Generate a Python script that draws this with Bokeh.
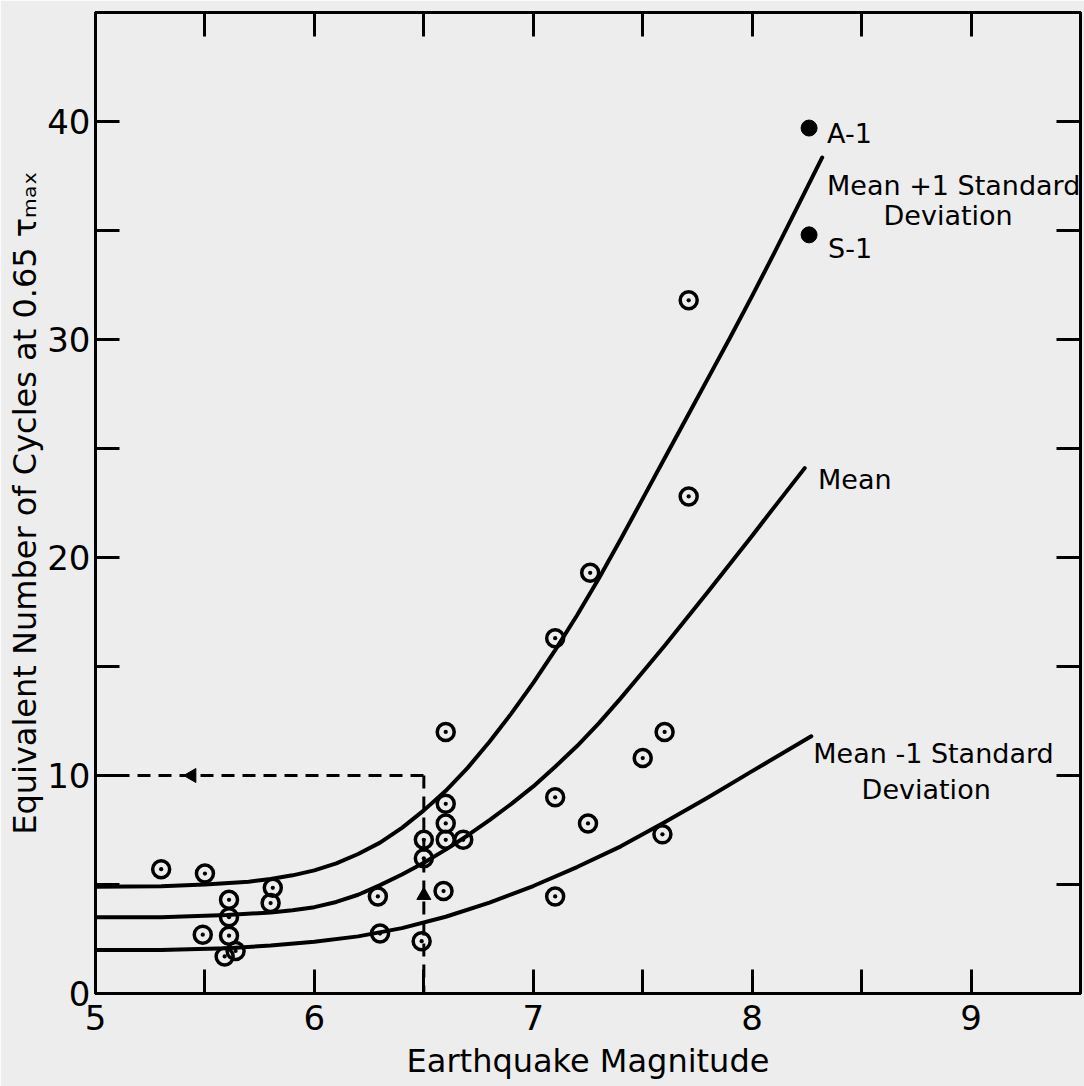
import math
from bokeh.plotting import figure
from bokeh.models import Range1d, FixedTicker, LinearAxis, Label
from bokeh.embed import file_html
from bokeh.resources import INLINE

# ---------------- data ----------------
plus_x = [5.0, 5.3, 5.5, 5.7, 5.8, 5.9, 6.0, 6.1, 6.2, 6.3, 6.4, 6.5, 6.6, 6.7, 6.8, 6.9, 7.0,
          7.1, 7.2, 7.3, 7.4, 7.5, 7.6, 7.7, 7.8, 7.9, 8.0, 8.1, 8.2, 8.32]
plus_y = [4.9, 4.92, 5.0, 5.13, 5.25, 5.42, 5.65, 5.97, 6.4, 6.92, 7.6, 8.4, 9.3, 10.35, 11.55, 12.85, 14.25,
          15.75, 17.35, 19.05, 20.85, 22.7, 24.55, 26.4, 28.25, 30.1, 32.0, 33.95, 35.95, 38.35]

mean_x = [5.0, 5.3, 5.6, 5.8, 5.9, 6.0, 6.1, 6.2, 6.3, 6.4, 6.5, 6.6, 6.7, 6.8, 6.9, 7.0, 7.1,
          7.2, 7.3, 7.4, 7.5, 7.6, 7.7, 7.8, 7.9, 8.0, 8.1, 8.24]
mean_y = [3.5, 3.5, 3.6, 3.72, 3.82, 3.96, 4.2, 4.53, 4.97, 5.46, 6.0, 6.6, 7.25, 7.95, 8.7, 9.5, 10.4,
          11.35, 12.4, 13.55, 14.75, 15.95, 17.2, 18.45, 19.72, 21.0, 22.3, 24.1]

minus_x = [5.0, 5.3, 5.6, 5.8, 6.0, 6.2, 6.4, 6.6, 6.8, 7.0, 7.2, 7.4, 7.6, 7.8, 8.0, 8.27]
minus_y = [2.0, 2.0, 2.08, 2.2, 2.37, 2.62, 3.0, 3.52, 4.17, 4.93, 5.8, 6.75, 7.85, 9.0, 10.2, 11.8]

obs_mag = [5.30, 5.50, 5.61, 5.61, 5.49, 5.61, 5.59, 5.64, 5.81, 5.80,
           6.29, 6.30, 6.49, 6.59, 6.50, 6.50, 6.60, 6.68, 6.60, 6.60,
           6.60, 7.10, 7.10, 7.25, 7.59, 7.50, 7.60, 7.10, 7.26, 7.71, 7.71]
obs_cycles = [5.7, 5.5, 4.3, 3.5, 2.7, 2.65, 1.7, 1.95, 4.85, 4.15,
              4.45, 2.75, 2.4, 4.7, 6.2, 7.05, 7.05, 7.05, 7.8, 8.7,
              12.0, 4.45, 9.0, 7.8, 7.3, 10.8, 12.0, 16.3, 19.3, 22.8, 31.8]

special_names = ["A-1", "S-1"]
special_mag = [8.26, 8.26]
special_cycles = [39.7, 34.8]

guide_mag = 6.5
guide_cycles = 10.0

x_major = [5, 6, 7, 8, 9]
x_minor = [5.5, 6.5, 7.5, 8.5]
y_major = [0, 10, 20, 30, 40]
y_minor = [5, 15, 25, 35]

FONT = "DejaVu Sans"
BG = "#ededed"

p = figure(width=1084, height=1086, output_backend="svg", toolbar_location=None,
           x_range=Range1d(5, 9.5), y_range=Range1d(0, 45),
           background_fill_color=BG, border_fill_color=BG,
           min_border_left=95, min_border_right=4, min_border_top=12, min_border_bottom=93)
p.grid.visible = False
p.outline_line_color = "black"
p.outline_line_width = 3

def style_axis(ax, ticks, minor):
    ax.ticker = FixedTicker(ticks=ticks, minor_ticks=minor)
    ax.axis_line_color = "black"
    ax.axis_line_width = 3
    ax.major_tick_in = 24
    ax.major_tick_out = 0
    ax.minor_tick_in = 24
    ax.minor_tick_out = 0
    ax.major_tick_line_width = 3
    ax.minor_tick_line_width = 3
    ax.major_tick_line_color = "black"
    ax.minor_tick_line_color = "black"
    ax.major_label_text_font = FONT
    ax.major_label_text_font_size = "34px"
    ax.major_label_text_color = "black"
    ax.axis_label_text_font = FONT
    ax.axis_label_text_font_style = "normal"
    ax.axis_label_text_color = "black"

style_axis(p.xaxis[0], x_major, x_minor)
style_axis(p.yaxis[0], y_major, y_minor)
p.xaxis[0].major_label_standoff = 11
p.yaxis[0].major_label_standoff = 5
p.xaxis[0].axis_label = "Earthquake Magnitude"
p.xaxis[0].axis_label_text_font_size = "32px"
p.xaxis[0].axis_label_standoff = 9
p.yaxis[0].axis_label = "Equivalent Number of Cycles at 0.65 \u03c4\u2098\u2090\u2093"
p.yaxis[0].axis_label_text_font_size = "32px"
p.yaxis[0].axis_label_standoff = 0

# top and right frame ticks (no labels: all ticks as minor ticks)
top = LinearAxis()
style_axis(top, [], x_major + x_minor)
p.add_layout(top, "above")
right = LinearAxis()
style_axis(right, [], y_major + y_minor)
p.add_layout(right, "right")

# curves
for xs, ys in [(plus_x, plus_y), (mean_x, mean_y), (minus_x, minus_y)]:
    p.line(xs, ys, line_color="black", line_width=4, line_join="round", line_cap="round")

# guide dashed lines
p.line([5.0, guide_mag], [guide_cycles, guide_cycles], line_color="black", line_width=3, line_dash="13 8")
p.line([guide_mag, guide_mag], [guide_cycles, 0], line_color="black", line_width=3, line_dash="13 8")
p.scatter([5.44], [guide_cycles], marker="triangle", angle=math.pi / 2, size=14,
          fill_color="black", line_color="black")
p.scatter([guide_mag], [4.5], marker="triangle", size=14, fill_color="black", line_color="black")

# observations
p.scatter(obs_mag, obs_cycles, marker="circle_dot", size=17, fill_color=None,
          line_color="black", line_width=3.5)
p.scatter(special_mag, special_cycles, marker="circle", size=16, fill_color="black", line_color="black")

def lab(x, y, t, align="left", size="27px"):
    p.add_layout(Label(x=x, y=y, text=t, text_font=FONT, text_font_size=size,
                       text_color="black", text_align=align, text_baseline="alphabetic"))

lab(8.342, 39.45, special_names[0])
lab(8.342, 37.07, "Mean +1 Standard")
lab(8.895, 35.7, "Deviation", align="center")
lab(8.347, 34.19, special_names[1])
lab(8.301, 23.6, "Mean")
lab(8.279, 11.03, "Mean -1 Standard")
lab(8.795, 9.38, "Deviation", align="center")

open("out.html", "w").write(file_html(p, INLINE))
